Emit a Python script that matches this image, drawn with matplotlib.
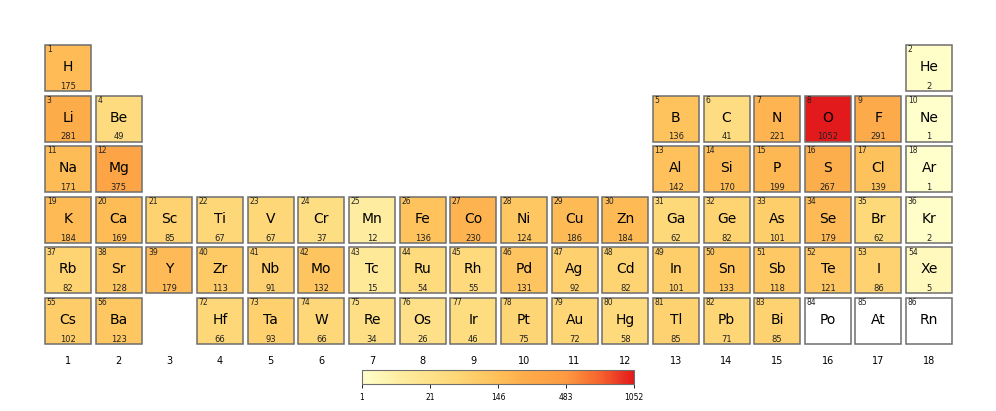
"""
Periodic table heatmap: element counts on a stretched colour scale
"""

import numpy as np
import matplotlib
matplotlib.use("Agg")
import matplotlib.pyplot as plt
from matplotlib.colors import LinearSegmentedColormap, FuncNorm
from matplotlib.patches import Rectangle

# element data (symbol, atomic number, group, period, count); None = no data
symbols = ["H", "He",
           "Li", "Be", "B", "C", "N", "O", "F", "Ne",
           "Na", "Mg", "Al", "Si", "P", "S", "Cl", "Ar",
           "K", "Ca", "Sc", "Ti", "V", "Cr", "Mn", "Fe", "Co", "Ni", "Cu", "Zn",
           "Ga", "Ge", "As", "Se", "Br", "Kr",
           "Rb", "Sr", "Y", "Zr", "Nb", "Mo", "Tc", "Ru", "Rh", "Pd", "Ag", "Cd",
           "In", "Sn", "Sb", "Te", "I", "Xe",
           "Cs", "Ba", "Hf", "Ta", "W", "Re", "Os", "Ir", "Pt", "Au", "Hg",
           "Tl", "Pb", "Bi", "Po", "At", "Rn"]
numbers = [1, 2,
           3, 4, 5, 6, 7, 8, 9, 10,
           11, 12, 13, 14, 15, 16, 17, 18,
           *range(19, 37),
           *range(37, 55),
           55, 56, *range(72, 87)]
groups = [1, 18,
          1, 2, 13, 14, 15, 16, 17, 18,
          1, 2, 13, 14, 15, 16, 17, 18,
          *range(1, 19),
          *range(1, 19),
          1, 2, *range(4, 19)]
periods = [1] * 2 + [2] * 8 + [3] * 8 + [4] * 18 + [5] * 18 + [6] * 17
counts = [175, 2,
          281, 49, 136, 41, 221, 1052, 291, 1,
          171, 375, 142, 170, 199, 267, 139, 1,
          184, 169, 85, 67, 67, 37, 12, 136, 230, 124, 186, 184, 62, 82, 101, 179, 62, 2,
          82, 128, 179, 113, 91, 132, 15, 54, 55, 131, 92, 82, 101, 133, 118, 121, 86, 5,
          102, 123, 66, 93, 66, 34, 26, 46, 75, 72, 58, 85, 71, 85, None, None, None]

cbar_ticks = [1, 21, 146, 483, 1052]
group_labels = [str(g) for g in range(1, 19)]

# colour scale: evenly spaced ticks on the bar
tick_pos = np.linspace(0, 1, len(cbar_ticks))


def _fwd(v):
    return np.interp(v, cbar_ticks, tick_pos)


def _inv(p):
    return np.interp(p, tick_pos, cbar_ticks)


norm = FuncNorm((_fwd, _inv), vmin=cbar_ticks[0], vmax=cbar_ticks[-1])
cmap = LinearSegmentedColormap.from_list("ylor", [
    (0.0, "#ffffcc"), (0.14, "#feec9f"), (0.33, "#fed97a"), (0.48, "#fec35d"),
    (0.6, "#fdac4a"), (0.75, "#fd9a41"), (0.88, "#f5612d"), (1.0, "#e31a1c")])

fig = plt.figure(figsize=(9.96, 4.11), dpi=100)
ax = fig.add_axes([0.0429, 0.1574, 0.9154, 0.7387])

size = 0.908
for sym, num, g, p, c in zip(symbols, numbers, groups, periods, counts):
    face = "white" if c is None else cmap(norm(c))
    ax.add_patch(Rectangle((g - size / 2, p - size / 2), size, size,
                           facecolor=face, edgecolor="#6e6e6e", linewidth=1.1))
    ax.text(g - 0.42, p - 0.36, str(num), fontsize=5.5, ha="left", va="center", color="#222222")
    ax.text(g, p - 0.02, sym, fontsize=10, ha="center", va="center", color="black")
    if c is not None:
        ax.text(g, p + 0.36, str(c), fontsize=6, ha="center", va="center", color="#222222")

ax.set_xlim(0.5, 18.5)
ax.set_ylim(6.5, 0.5)
ax.set_xticks(range(1, 19))
ax.set_xticklabels(group_labels, fontsize=7)
ax.tick_params(axis="x", length=0, pad=7)
ax.set_yticks([])
for s in ax.spines.values():
    s.set_visible(False)

# colorbar
cax = fig.add_axes([0.3635, 0.0657, 0.2731, 0.034])
sm = plt.cm.ScalarMappable(norm=norm, cmap=cmap)
cb = fig.colorbar(sm, cax=cax, orientation="horizontal")
cb.set_ticks(cbar_ticks)
cb.set_ticklabels([str(t) for t in cbar_ticks])
cb.ax.tick_params(labelsize=5.5, length=3, width=0.6)
cb.ax.xaxis.set_minor_locator(matplotlib.ticker.NullLocator())
cb.outline.set_edgecolor("#6e6e6e")

plt.savefig("out.png", dpi=100)
